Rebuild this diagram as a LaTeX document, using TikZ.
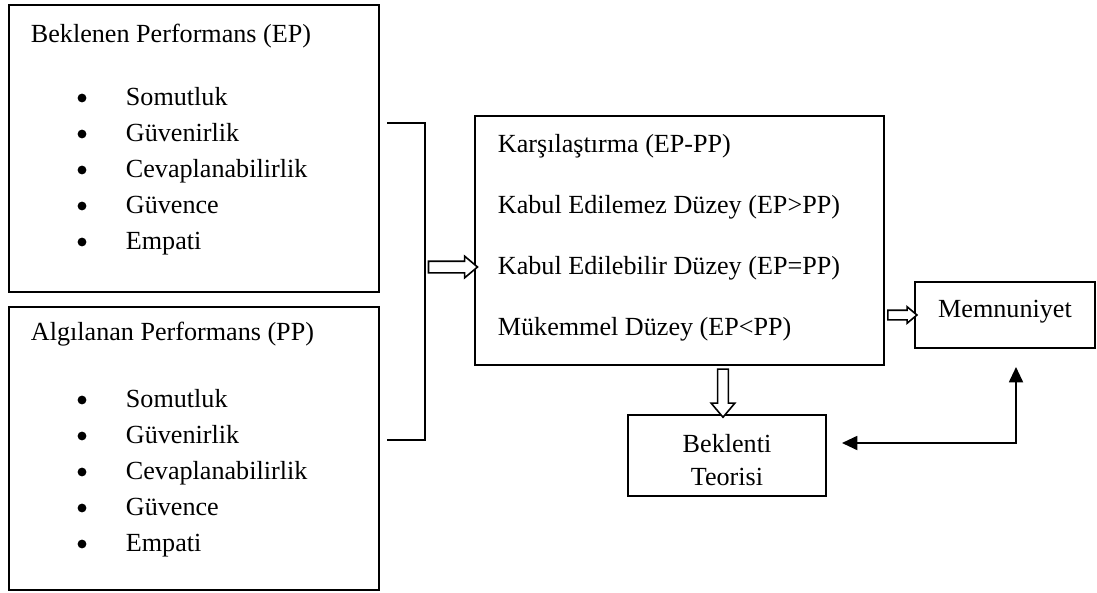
\documentclass[tikz,border=0pt]{standalone}
\usepackage{fontspec}
\setmainfont{Liberation Serif}
\usetikzlibrary{arrows.meta,shapes.arrows,calc,fit}
\tikzset{
  kutu/.style={draw, inner sep=0pt},
  yazi/.style={anchor=base west, inner sep=0pt},
  orta/.style={anchor=base, inner sep=0pt},
  nokta/.style={circle, fill, inner sep=0pt, minimum size=6.6pt},
  acikok/.style n args={2}{draw, fill=white, line width=1.2pt, single arrow,
    single arrow tip angle=80, single arrow head extend=#2,
    inner sep=0pt, inner ysep=#1}
}
\begin{document}
\begin{tikzpicture}[x=0.75pt,y=-0.75pt,line width=1.4pt,
  >={Triangle[length=11.5pt,width=10.5pt]},
  font=\fontsize{19.6}{24}\selectfont]
\def\bosok#1#2#3#4#5{
  \path let \p1=($(#2)-(#1)$), \n1={veclen(\x1,\y1)}, \n2={atan2(\y1,\x1)} in
    node[acikok={#4}{#5}, minimum height=\n1, rotate=\n2] (#3) at ($(#1)!0.5!(#2)$) {};
}
\useasboundingbox (0,0) rectangle (1097,593);
% sol kutular
\node[kutu, fit={(9,5) (379,292)}] (ep) {};
\node[kutu, fit={(9,307) (379,590)}] (pp) {};
\node (eptitle) at (30,42) [yazi] {Beklenen Performans (EP)};
\node (pptitle) at (30,340) [yazi] {Algılanan Performans (PP)};
\foreach \ad/\yy in {ep/105, pp/407}{
  \foreach \t [count=\i from 0] in {Somutluk,Güvenirlik,Cevaplanabilirlik,Güvence,Empati}{
    \node (\ad nokta\i) at (82,\yy+36*\i-7) [nokta] {};
    \node (\ad madde\i) at (125,\yy+36*\i) [yazi] {\t};
  }
}
% karsilastirma
\node[kutu, fit={(475,116) (884,365)}] (kars) {};
\node (kars0) at (497,152) [yazi] {Karşılaştırma (EP-PP)};
\node (kars1) at (497,213) [yazi] {Kabul Edilemez Düzey (EP>PP)};
\node (kars2) at (497,274) [yazi] {Kabul Edilebilir Düzey (EP=PP)};
\node (kars3) at (497,335) [yazi] {Mükemmel Düzey (EP<PP)};
\node[kutu, fit={(915,282) (1095,348)}] (mem) {};
\node (memyazi) at (1005,317) [orta] {Memnuniyet};
\node[kutu, fit={(628,415) (826,496)}] (bek) {};
\node (bek0) at (727,452) [orta] {Beklenti};
\node (bek1) at (727,485) [orta] {Teorisi};
% parantez
\coordinate (pust) at (387,123);
\coordinate (palt) at (387,440);
\coordinate (porta) at (425,267);
\draw (pust) -- ++(38,0) |- (palt);
% oklar
\bosok{porta}{kars.west |- porta}{ok1}{3.75pt}{3.75pt}
\bosok{kars.east |- mem.west}{mem.west}{ok2}{3pt}{2.6pt}
\bosok{kars.south -| 723,0}{bek.north -| 723,0}{ok3}{3.4pt}{4.9pt}
\coordinate (gsol) at (842,443);
\coordinate (gust) at (1016,367);
\draw[<->] (gsol) -| (gust);
\end{tikzpicture}
\end{document}
